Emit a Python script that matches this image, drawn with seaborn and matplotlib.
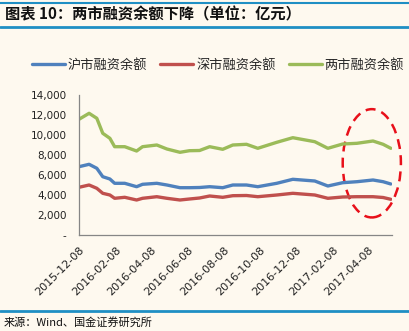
import matplotlib
matplotlib.use("Agg")
import matplotlib.pyplot as plt
import matplotlib.dates as mdates
from matplotlib.patches import Ellipse
from matplotlib.lines import Line2D
import matplotlib.ticker as mticker
import seaborn as sns
import pandas as pd
import numpy as np

dates = ["2015-12-08", "2015-12-25", "2016-01-07", "2016-01-17", "2016-01-29",
         "2016-02-06", "2016-02-23", "2016-03-14", "2016-03-24", "2016-04-17",
         "2016-05-04", "2016-05-26", "2016-06-11", "2016-06-28", "2016-07-15",
         "2016-08-06", "2016-08-23", "2016-09-15", "2016-10-04", "2016-11-05",
         "2016-12-02", "2017-01-08", "2017-01-30", "2017-02-24", "2017-03-20",
         "2017-04-16", "2017-05-03", "2017-05-16"]
sh_margin = [6830, 7070, 6670, 5830, 5600, 5170, 5170, 4830, 5070, 5170,
             5000, 4730, 4730, 4750, 4830, 4730, 5000, 5000, 4830, 5170,
             5570, 5400, 4900, 5230, 5330, 5500, 5330, 5100]
sz_margin = [4770, 5000, 4670, 4170, 4000, 3670, 3770, 3500, 3670, 3830,
             3670, 3500, 3600, 3700, 3900, 3770, 3930, 3950, 3830, 4000,
             4170, 4000, 3670, 3800, 3830, 3830, 3750, 3570]
total_margin = [11570, 12170, 11670, 10170, 9670, 8830, 8830, 8400, 8830, 9000,
                8600, 8270, 8430, 8450, 8830, 8570, 9000, 9070, 8670, 9270,
                9730, 9330, 8670, 9100, 9170, 9400, 9070, 8670]
series_names = ["沪市融资余额", "深市融资余额", "两市融资余额"]
colors = ["#4F81BD", "#C0504D", "#9BBB59"]
xtick_labels = ["2015-12-08", "2016-02-08", "2016-04-08", "2016-06-08", "2016-08-08",
                "2016-10-08", "2016-12-08", "2017-02-08", "2017-04-08"]
yticks = [0, 2000, 4000, 6000, 8000, 10000, 12000, 14000]

sns.set_style("white")
plt.rcParams['font.family'] = ['Noto Sans CJK SC', 'DejaVu Sans']

bg = "#FEF9EF"
fig = plt.figure(figsize=(4.10, 3.31), dpi=100, facecolor=bg)
ax = fig.add_axes([79/410, 1-235/331, (392-79)/410, (235-95)/331])
ax.set_facecolor(bg)

df = pd.DataFrame({"date": pd.to_datetime(dates)})
for name, vals, c in zip(series_names, [sh_margin, sz_margin, total_margin], colors):
    sns.lineplot(x=df["date"], y=vals, ax=ax, color=c, linewidth=2.4, label=name)

ax.set_xlim(pd.Timestamp("2015-12-08"), pd.Timestamp("2017-05-18"))
ax.set_ylim(0, 14000)
ax.set_yticks(yticks)
ax.yaxis.set_major_formatter(mticker.FuncFormatter(lambda v, p: "-" if v == 0 else f"{int(v):,}"))
ax.set_xticks(pd.to_datetime(xtick_labels))
ax.set_xticklabels(xtick_labels, rotation=45, ha="right", rotation_mode="anchor",
                   family="DejaVu Sans", fontsize=8)
for lbl in ax.get_yticklabels():
    lbl.set_family("DejaVu Sans")
    lbl.set_fontsize(7.5)
ax.tick_params(axis="both", colors="#222222", length=4, width=0.8, direction="out")
ax.tick_params(axis="x", pad=3)
ax.tick_params(axis="y", pad=5)
ax.tick_params(axis="both", color="#868686")
for s in ["top", "right"]:
    ax.spines[s].set_visible(False)
for s in ["left", "bottom"]:
    ax.spines[s].set_color("#868686")
    ax.spines[s].set_linewidth(0.9)
ax.set_xlabel("")
ax.set_ylabel("")
ax.grid(False)

# highlight ellipse
cx = mdates.date2num(pd.Timestamp("2017-04-14"))
ell = Ellipse((cx, 7170), width=98, height=10830, fill=False, edgecolor="#E8101A",
              linewidth=1.8, linestyle=(0, (4, 2.5)), clip_on=False)
ax.add_patch(ell)

if ax.legend_:
    ax.legend_.remove()
handles = [Line2D([0], [0], color=c, linewidth=2.4) for c in colors]
fig.legend(handles, series_names, loc="center", bbox_to_anchor=(218/410, 1-65/331),
           ncol=3, frameon=False, fontsize=9.5, handlelength=2.5, handletextpad=0.2,
           columnspacing=1.0)

# header / footer decorations
fig.add_artist(Line2D([0.0, 1.0], [1-3/331, 1-3/331], color="#1F8FC4", linewidth=1.5))
fig.add_artist(Line2D([0.0, 1.0], [1-26.5/331, 1-26.5/331], color="#1F8FC4", linewidth=2.0))
fig.add_artist(Line2D([0.0, 1.0], [1-311/331, 1-311/331], color="#1F8FC4", linewidth=2.0))
fig.text(5/410, 1-14/331, "图表 10：两市融资余额下降（单位：亿元）", fontsize=11,
         fontweight="bold", va="center", ha="left", color="#111111")
fig.text(4/410, 1-322/331, "来源：Wind、国金证券研究所", fontsize=8,
         va="center", ha="left", color="#111111")

fig.savefig("out.png", dpi=100, facecolor=bg)
